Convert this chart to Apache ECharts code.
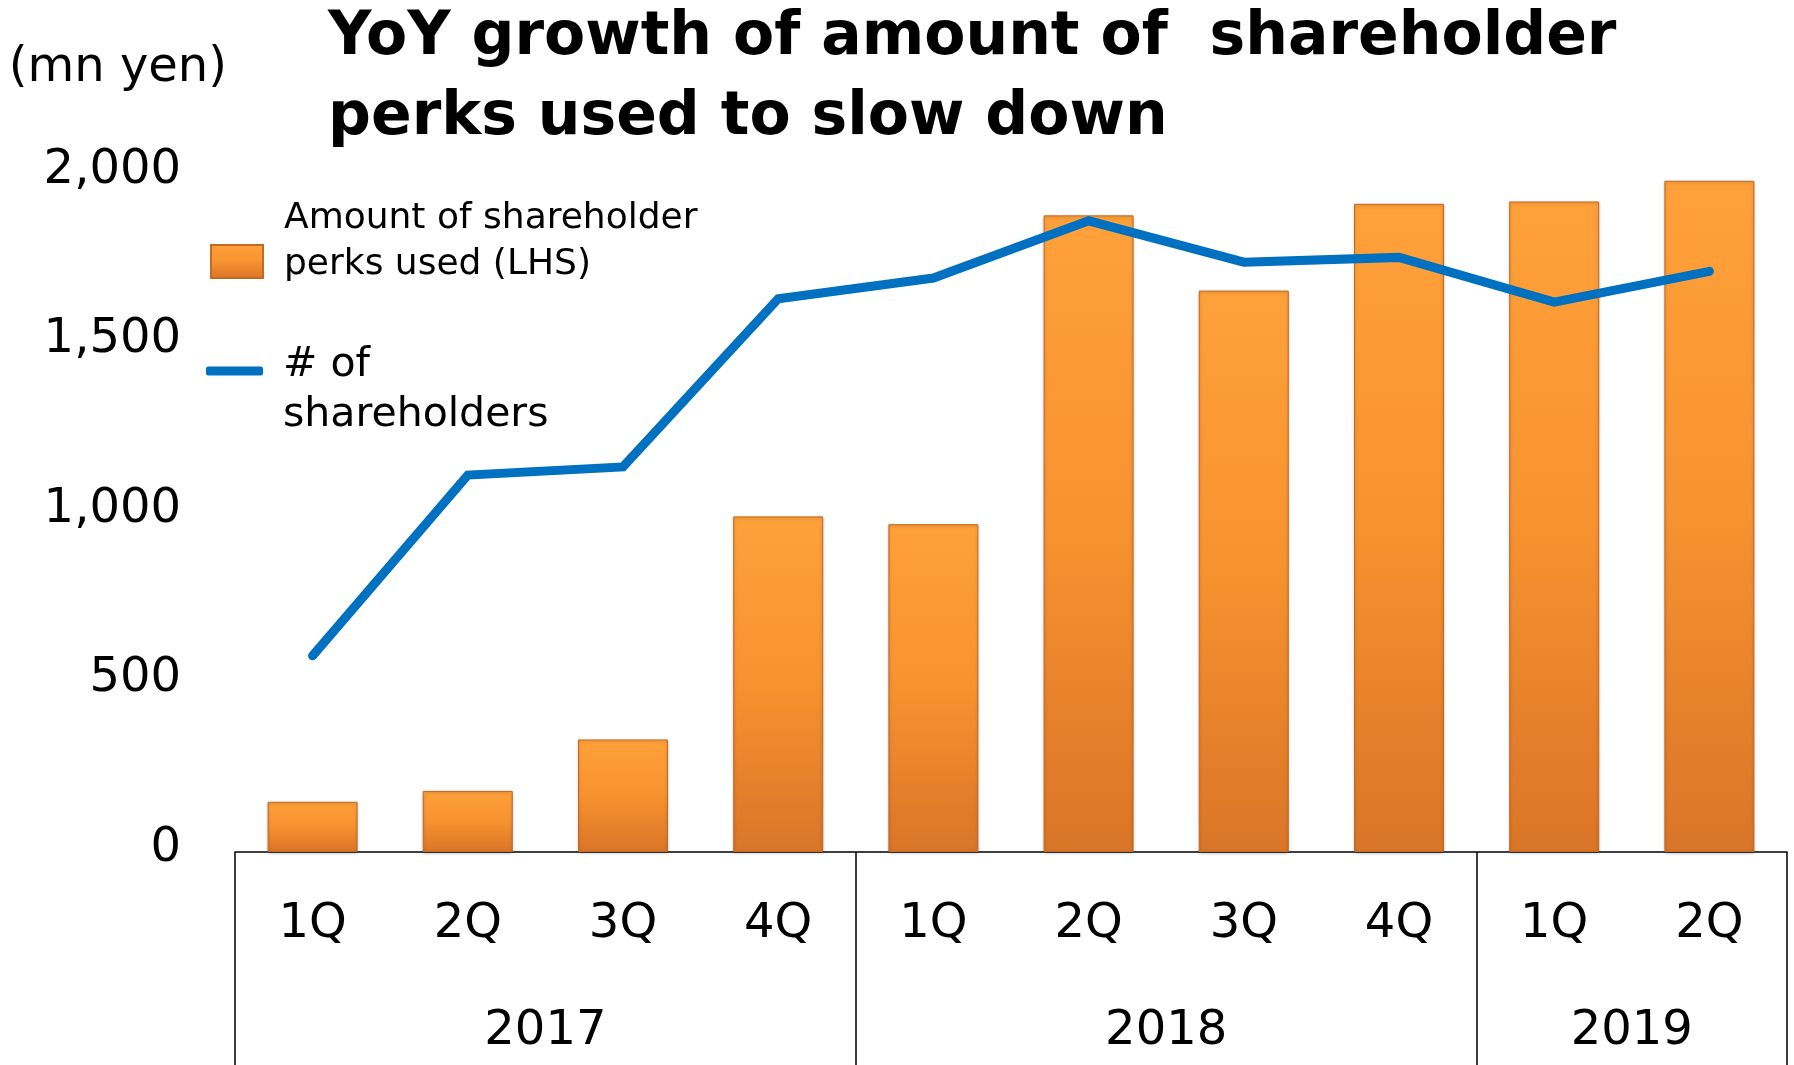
<!DOCTYPE html>
<html>
<head>
<meta charset="utf-8">
<script src="https://cdn.jsdelivr.net/npm/echarts@6/dist/echarts.min.js"></script>
<style>
  html, body { margin: 0; padding: 0; background: #fff; }
  #chart { width: 1794px; height: 1065px; }
</style>
</head>
<body>
<div id="chart"></div>
<script>
// 数据
var quarters = ['1Q', '2Q', '3Q', '4Q', '1Q', '2Q', '3Q', '4Q', '1Q', '2Q'];
var years = ['2017', '2018', '2019'];
var quartersPerYear = [4, 4, 2];
var perksUsed = [148, 180, 332, 990, 967, 1878, 1656, 1912, 1919, 1980];
var shareholders = [579, 1112, 1136, 1632, 1693, 1862, 1740, 1754, 1622, 1713];
var yTicks = [0, 500, 1000, 1500, 2000];

var barName = 'Amount of shareholder\nperks used (LHS)';
var lineName = '# of\nshareholders';

// 年份分隔线和年份标签的位置
var yearBounds = [0];
var yearCenters = [];
quartersPerYear.forEach(function (n) {
  var start = yearBounds[yearBounds.length - 1];
  yearCenters.push(start + n / 2);
  yearBounds.push(start + n);
});

var font = 'DejaVu Sans';
var chart = echarts.init(document.getElementById('chart'));

var option = {
  animation: false,
  title: {
    text: 'YoY growth of amount of  shareholder\nperks used to slow down',
    left: 323,
    top: -7,
    textStyle: {
      fontFamily: font,
      fontWeight: 'bold',
      fontSize: 60,
      lineHeight: 80,
      color: '#000'
    }
  },
  legend: [
    {
      data: [{ name: barName, icon: 'rect' }],
      left: 205,
      top: 191,
      orient: 'vertical',
      itemWidth: 52,
      itemHeight: 33,
      formatter: function (name) {
        return name + '\n{gap| }';
      },
      textStyle: {
        fontFamily: font,
        fontSize: 36,
        lineHeight: 46,
        color: '#000',
        padding: [0, 0, 0, 16],
        rich: { gap: { fontSize: 10, lineHeight: 39 } }
      }
    },
    {
      data: [{ name: lineName, icon: 'roundRect' }],
      left: 201,
      top: 297,
      orient: 'vertical',
      itemWidth: 57,
      itemHeight: 9,
      formatter: function (name) {
        return '{gap| }\n' + name;
      },
      textStyle: {
        fontFamily: font,
        fontSize: 41,
        lineHeight: 50,
        color: '#000',
        padding: [0, 0, 0, 15],
        rich: { gap: { fontSize: 10, lineHeight: 38 } }
      }
    }
  ],
  grid: {
    left: 235,
    right: 7,
    top: 174,
    bottom: 213,
    containLabel: false
  },
  xAxis: [
    {
      type: 'category',
      data: quarters,
      boundaryGap: true,
      axisLine: { show: true, lineStyle: { color: '#000', width: 1.5 } },
      axisTick: { show: false },
      axisLabel: {
        color: '#000',
        fontFamily: font,
        fontSize: 48,
        margin: 49
      }
    },
    {
      type: 'value',
      min: 0,
      max: quarters.length,
      position: 'bottom',
      splitLine: { show: false },
      axisLine: { show: false },
      axisTick: {
        show: true,
        customValues: yearBounds,
        length: 230,
        lineStyle: { color: '#000', width: 1.5 }
      },
      axisLabel: {
        customValues: yearCenters,
        color: '#000',
        fontFamily: font,
        fontSize: 48,
        margin: 156,
        formatter: function (v) {
          var i = yearCenters.indexOf(v);
          return i >= 0 ? years[i] : '';
        }
      }
    }
  ],
  yAxis: [
    {
      type: 'value',
      min: yTicks[0],
      max: yTicks[yTicks.length - 1],
      interval: yTicks[1] - yTicks[0],
      name: '(mn yen)',
      nameLocation: 'end',
      nameGap: 81,
      nameTextStyle: {
        fontFamily: font,
        fontSize: 48,
        color: '#000',
        align: 'right',
        padding: [0, 8, 0, 0]
      },
      axisLine: { show: false },
      axisTick: { show: false },
      splitLine: { show: false },
      axisLabel: {
        color: '#000',
        fontFamily: font,
        fontSize: 48,
        margin: 54,
        verticalAlign: 'bottom',
        lineHeight: 7,
        formatter: function (v) {
          return v.toLocaleString('en-US');
        }
      }
    },
    {
      type: 'value',
      min: 0,
      max: 2000,
      show: false
    }
  ],
  series: [
    {
      name: barName,
      type: 'bar',
      data: perksUsed,
      barWidth: 90,
      itemStyle: {
        color: new echarts.graphic.LinearGradient(0, 0, 0, 1, [
          { offset: 0, color: '#FFA13A' },
          { offset: 0.5, color: '#F79230' },
          { offset: 1, color: '#D97527' }
        ]),
        borderColor: '#C46A24',
        borderWidth: 1,
        shadowBlur: 3,
        shadowColor: 'rgba(0, 0, 0, 0.25)',
        shadowOffsetY: 1
      }
    },
    {
      name: lineName,
      type: 'line',
      yAxisIndex: 1,
      data: shareholders,
      symbol: 'none',
      z: 5,
      itemStyle: { color: '#0070C0' },
      lineStyle: {
        color: '#0070C0',
        width: 9,
        cap: 'round',
        join: 'miter'
      }
    }
  ]
};

chart.setOption(option);

window.addEventListener('resize', function () {
  chart.resize();
});
</script>
</body>
</html>
